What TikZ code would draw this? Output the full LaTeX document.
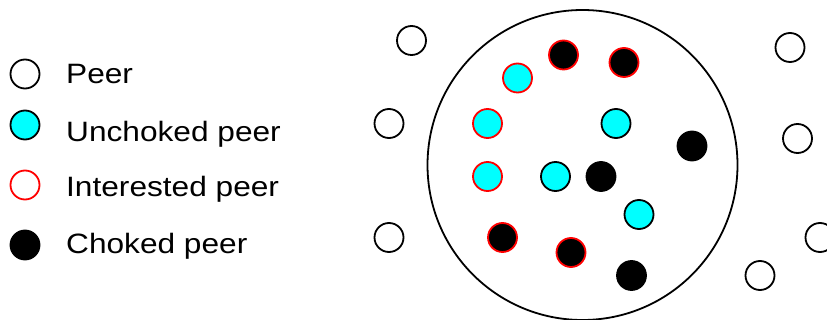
\documentclass[tikz,border=0pt]{standalone}
\usepackage{fontspec}
\setmainfont{Liberation Sans}
\newfontfamily\legendfont[FakeStretch=1.13]{Liberation Sans}
\usepackage{xcolor}
\usepackage{tikz}
\usetikzlibrary{
    positioning
}

\definecolor{peercyan}{RGB}{0,255,255}
\definecolor{peerred}{RGB}{255,0,0}

\begin{document}
\begin{tikzpicture}[
    x=1pt, y=-1pt,
    dot/.style={
        circle,
        draw,
        line width=1.8pt,
        minimum size=29pt,
        inner sep=0pt
    },
    peer/.style={dot, draw=black, fill=white},
    unchoked/.style={dot, draw=black, fill=peercyan},
    interested/.style={dot, draw=peerred, fill=white},
    choked/.style={dot, draw=black, fill=black},
    intunchoked/.style={dot, draw=peerred, fill=peercyan},
    intchoked/.style={dot, draw=peerred, fill=black},
    legtext/.style={
        anchor=base west,
        inner sep=0pt,
        font=\legendfont\fontsize{28}{33}\selectfont
    },
    swarm/.style={circle, draw, line width=1.8pt, minimum size=310pt, inner sep=0pt}
]

\useasboundingbox (0,0) rectangle (827,320);

% legend
\node[peer] (lpeer) at (25,74) {};
\node[unchoked] (lunchoked) at (25,125) {};
\node[interested] (linterested) at (25,185) {};
\node[choked] (lchoked) at (25,245) {};

\node[legtext] (tpeer) at (66,84) {Peer};
\node[legtext] (tunchoked) at (66,142) {Unchoked peer};
\node[legtext] (tinterested) at (66,197) {Interested peer};
\node[legtext] (tchoked) at (66,254) {Choked peer};

% neighbourhood
\node[swarm] (swarm) at (582.5,165) {};

% peers outside
\node[peer] (out1) at (411.5,40.5) {};
\node[peer] (out2) at (389,123.5) {};
\node[peer] (out3) at (389,237.5) {};
\node[peer] (out4) at (790,47.5) {};
\node[peer] (out5) at (797.5,138.5) {};
\node[peer] (out6) at (820,237.5) {};
\node[peer] (out7) at (760,275.5) {};

% peers inside
\node[intchoked] (ic1) at (563.5,55) {};
\node[intchoked] (ic2) at (624,62.5) {};
\node[intchoked] (ic3) at (502.5,237.5) {};
\node[intchoked] (ic4) at (571,252.5) {};

\node[intunchoked] (iu1) at (517.5,78) {};
\node[intunchoked] (iu2) at (487.5,123.5) {};
\node[intunchoked] (iu3) at (487.5,176.5) {};

\node[unchoked] (un1) at (616,123.5) {};
\node[unchoked] (un2) at (555.5,176.5) {};
\node[unchoked] (un3) at (639,214.5) {};

\node[choked] (ch1) at (692,146) {};
\node[choked] (ch2) at (601,176.5) {};
\node[choked] (ch3) at (631.5,275.5) {};

\end{tikzpicture}
\end{document}
